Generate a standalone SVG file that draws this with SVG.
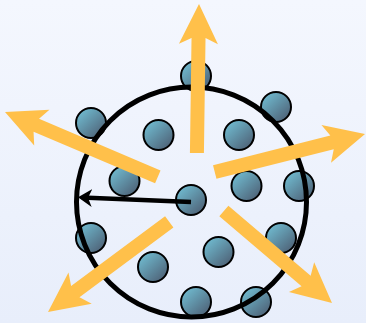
<svg xmlns="http://www.w3.org/2000/svg" width="366" height="323" viewBox="0 0 366 323">
<defs>
<linearGradient id="bg" x1="0" y1="0" x2="0" y2="1">
<stop offset="0" stop-color="#f4f7fe"/>
<stop offset="1" stop-color="#e8eefb"/>
</linearGradient>
<linearGradient id="ballg" x1="0.2" y1="0.2" x2="0.85" y2="0.9">
<stop offset="0" stop-color="#6cb0c5"/>
<stop offset="1" stop-color="#4f6479"/>
</linearGradient>
<marker id="blackhead" viewBox="0 0 14 18" refX="10" refY="9" markerWidth="14" markerHeight="18" markerUnits="userSpaceOnUse" orient="auto">
<path d="M14,9 L0,0 L4,9 L0,18 Z" fill="#000"/>
</marker>
<style>
.ball{fill:url(#ballg);stroke:#000;stroke-width:2}
.arr{fill:#ffc04a}
</style>
</defs>
<rect width="366" height="323" fill="url(#bg)"/>
<g id="balls">
<g id="b1"><circle class="ball" cx="91" cy="123" r="15"/></g>
<g id="b2"><circle class="ball" cx="158.5" cy="135" r="15"/></g>
<g id="b3"><circle class="ball" cx="196" cy="76" r="15"/></g>
<g id="b4"><circle class="ball" cx="276" cy="107" r="15"/></g>
<g id="b5"><circle class="ball" cx="239" cy="135" r="15"/></g>
<g id="b6"><circle class="ball" cx="124.5" cy="181" r="15"/></g>
<g id="b7"><circle class="ball" cx="191" cy="200" r="15"/></g>
<g id="b8"><circle class="ball" cx="91" cy="238" r="15"/></g>
<g id="b9"><circle class="ball" cx="153" cy="267" r="15"/></g>
<g id="b10"><circle class="ball" cx="246.5" cy="186" r="15"/></g>
<g id="b11"><circle class="ball" cx="299" cy="186" r="15"/></g>
<g id="b12"><circle class="ball" cx="281" cy="238" r="15"/></g>
<g id="b13"><circle class="ball" cx="218.5" cy="252" r="15"/></g>
<g id="b14"><circle class="ball" cx="196" cy="302" r="15"/></g>
<g id="b15"><circle class="ball" cx="256" cy="302" r="15"/></g>
</g>
<g id="ring"><circle cx="191.5" cy="202" r="115" fill="none" stroke="#000" stroke-width="5"/></g>
<g id="connectors">
<path class="arr" transform="translate(199,4) rotate(-89.2)" d="M0,0 L-40,-19.5 L-34,-7 L-149,-7 L-149,7 L-34,7 L-40,19.5 Z"/>
<path class="arr" transform="translate(5,112) rotate(-157)" d="M0,0 L-40,-19.5 L-34,-7 L-166,-7 L-166,7 L-34,7 L-40,19.5 Z"/>
<path class="arr" transform="translate(365,134) rotate(-14.2)" d="M0,0 L-40,-19.5 L-34,-7 L-155,-7 L-155,7 L-34,7 L-40,19.5 Z"/>
<path class="arr" transform="translate(48,312) rotate(143.4)" d="M0,0 L-40,-19.5 L-34,-7 L-151,-7 L-151,7 L-34,7 L-40,19.5 Z"/>
<path class="arr" transform="translate(332,303) rotate(40.4)" d="M0,0 L-40,-19.5 L-34,-7 L-142,-7 L-142,7 L-34,7 L-40,19.5 Z"/>
<line x1="191" y1="202" x2="82" y2="197.5" stroke="#000" stroke-width="4.5" marker-end="url(#blackhead)"/>
</g>
</svg>
